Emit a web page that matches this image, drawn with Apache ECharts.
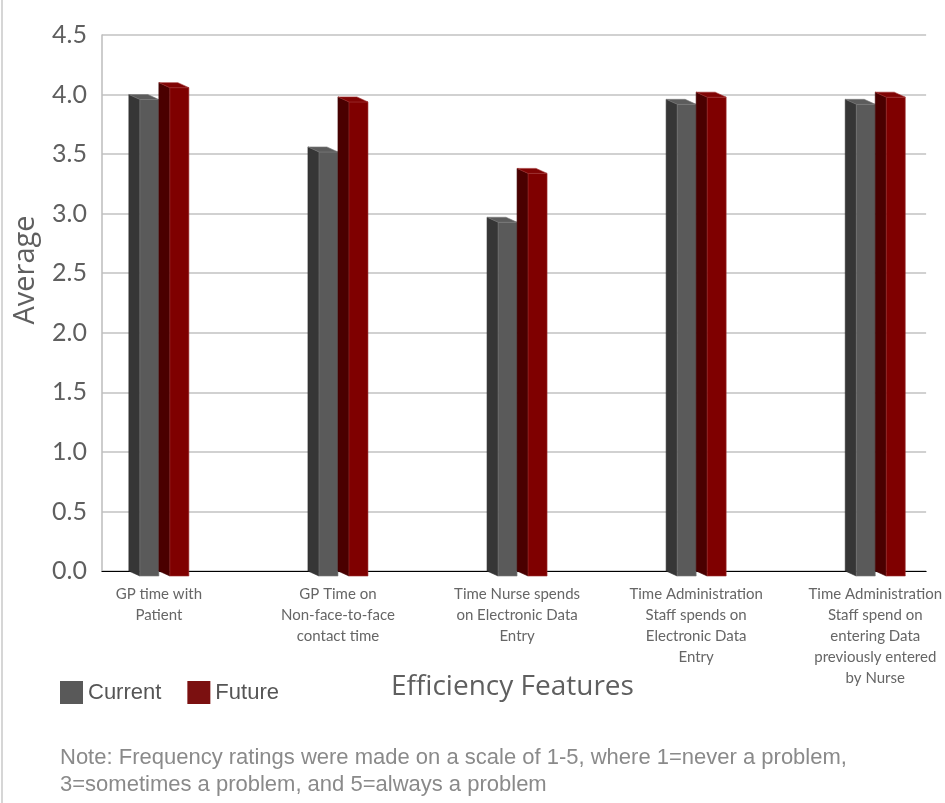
<!DOCTYPE html>
<html><head><meta charset="utf-8">
<script src="https://cdn.jsdelivr.net/npm/echarts@6/dist/echarts.min.js"></script>
<style>html,body{margin:0;padding:0;background:#fff}#c{width:945px;height:803px}</style>
</head><body><div id="c"></div>
<script>
const categories = [
  "GP time with\nPatient",
  "GP Time on\nNon-face-to-face\ncontact time",
  "Time Nurse spends\non Electronic Data\nEntry",
  "Time Administration\nStaff spends on\nElectronic Data\nEntry",
  "Time Administration\nStaff spend on\nentering Data\npreviously entered\nby Nurse"
];
const seriesNames = ["Current", "Future"];
const currentValues = [4.00, 3.56, 2.97, 3.96, 3.96];
const futureValues = [4.10, 3.98, 3.38, 4.02, 4.02];
const yMin = 0, yMax = 4.5, yStep = 0.5;
const categoryIndex = categories.map((c, i) => i);

const SIDE = 11, DEPTH = 5, FRONT = 19;
function makeRender(offset, cols) {
  return function (params, api) {
    const top = api.coord([api.value(0), api.value(1)]);
    const base = api.coord([api.value(0), 0]);
    const xb = top[0] + offset, yv = top[1], y0 = base[1];
    return {
      type: 'group',
      children: [
        { type: 'polygon', shape: { points: [[xb, yv], [xb + SIDE, yv + DEPTH], [xb + SIDE, y0 + DEPTH], [xb, y0]] },
          style: { fill: cols.side, stroke: cols.sideEdge, lineWidth: 0.6 } },
        { type: 'rect', shape: { x: xb + SIDE, y: yv + DEPTH, width: FRONT, height: y0 - yv },
          style: { fill: cols.front, stroke: cols.edge, lineWidth: 0.6 } },
        { type: 'polygon', shape: { points: [[xb, yv], [xb + FRONT, yv], [xb + FRONT + SIDE, yv + DEPTH], [xb + SIDE, yv + DEPTH]] },
          style: { fill: cols.top, stroke: cols.edge, lineWidth: 0.6 } }
      ]
    };
  };
}

const chart = echarts.init(document.getElementById('c'), null, { renderer: 'canvas' });
const gillFont = 'Lato, "Open Sans", sans-serif';
const wideFont = '"Open Sans", Lato, sans-serif';
const arialFont = '"Liberation Sans", Arial, sans-serif';
chart.setOption({
  animation: false,
  backgroundColor: '#ffffff',
  grid: [
    { left: 102, right: 17, top: 35, bottom: 232 }
  ],
  xAxis: [
    { gridIndex: 0, type: 'value', min: -0.3175, max: 4.284,
      axisLine: { show: true, onZero: false, lineStyle: { color: '#000', width: 1.2 } },
      axisTick: { show: false }, splitLine: { show: false },
      axisLabel: { show: true, customValues: categoryIndex, formatter: v => categories[Math.round(v)] || '',
        margin: 13, fontSize: 15, lineHeight: 21, color: '#666', fontFamily: gillFont,
        hideOverlap: false } }
  ],
  yAxis: [
    { gridIndex: 0, type: 'value', min: yMin, max: yMax, interval: yStep,
      axisLine: { show: true, onZero: false, lineStyle: { color: '#bdbdbd', width: 1.5 } },
      axisTick: { show: false },
      splitLine: { show: true, lineStyle: { color: '#c2c2c2', width: 1.5 } },
      axisLabel: { margin: 15, fontSize: 25, color: '#5f5f5f', fontFamily: gillFont,
        formatter: v => v.toFixed(1) } }
  ],
  legend: {
    left: 60, top: 681, padding: 0, itemWidth: 23, itemHeight: 23, itemGap: 26, icon: 'rect',
    data: seriesNames,
    textStyle: { fontSize: 22, color: '#555', fontFamily: arialFont }
  },
  title: [
    { text: 'Efficiency Features', left: 391, top: 673, padding: 0,
      textStyle: { fontSize: 28, fontWeight: 'normal', color: '#5f5f5f', fontFamily: wideFont } },
    { text: 'Note: Frequency ratings were made on a scale of 1-5, where 1=never a problem,\n3=sometimes a problem, and 5=always a problem',
      left: 60, top: 744, padding: 0,
      textStyle: { fontSize: 22, lineHeight: 27, fontWeight: 'normal', color: '#8a8a8a', fontFamily: arialFont } }
  ],
  graphic: [
    { type: 'text', x: 26, y: 270, rotation: Math.PI / 2,
      style: { text: 'Average', fontSize: 29, fill: '#5f5f5f', fontFamily: wideFont,
        align: 'center', verticalAlign: 'middle' } },
    { type: 'line', shape: { x1: 2, y1: 0, x2: 2, y2: 803 }, style: { stroke: '#c8c8c8', lineWidth: 1.5 } }
  ],
  series: [
    { name: seriesNames[0], type: 'custom',
      itemStyle: { color: '#595959' },
      renderItem: makeRender(-30, { side: '#363636', sideEdge: '#2a2a2a', front: '#5a5a5a', top: '#5c5c5c', edge: '#7a7a7a' }),
      data: currentValues.map((v, i) => [categoryIndex[i], v]) },
    { name: seriesNames[1], type: 'custom',
      itemStyle: { color: '#7b1010' },
      renderItem: makeRender(0, { side: '#4a0000', sideEdge: '#3a0000', front: '#7f0000', top: '#800404', edge: '#a03030' }),
      data: futureValues.map((v, i) => [categoryIndex[i], v]) }
  ]
});
</script></body></html>
